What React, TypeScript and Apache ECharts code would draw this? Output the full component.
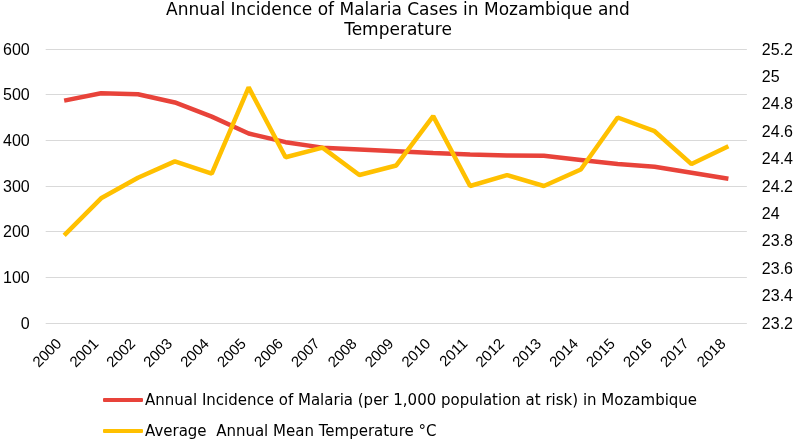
import React, { useEffect, useRef } from "react";
import * as echarts from "echarts";

const years = ["2000","2001","2002","2003","2004","2005","2006","2007","2008","2009","2010","2011","2012","2013","2014","2015","2016","2017","2018"];
const malaria = [487, 503, 501, 483, 452, 415, 396, 384, 380, 376, 372, 369, 367, 366, 357, 348, 342, 329, 316];
const temperature = [23.84, 24.11, 24.26, 24.38, 24.29, 24.92, 24.41, 24.48, 24.28, 24.35, 24.71, 24.2, 24.28, 24.2, 24.32, 24.7, 24.6, 24.36, 24.49];
const malariaName = "Annual Incidence of Malaria (per 1,000 population at risk) in Mozambique";
const tempName = "Average  Annual Mean Temperature \u00b0C";
const titleText = "Annual Incidence of Malaria Cases in Mozambique and\nTemperature";

const FONT = "Liberation Sans, Arial, sans-serif";
const WIDE = "DejaVu Sans, sans-serif";

export default function App() {
  const ref = useRef<HTMLDivElement>(null);
  useEffect(() => {
    if (!ref.current) return;
    const chart = echarts.init(ref.current, undefined, { renderer: "svg" });
    chart.setOption({
      animation: false,
      textStyle: { fontFamily: FONT },
      title: {
        text: titleText,
        left: "center",
        top: -6,
        textStyle: { fontFamily: WIDE, fontSize: 17, fontWeight: "normal", color: "#000", lineHeight: 20 },
      },
      grid: { left: 43, right: 48, top: 49, bottom: 118 },
      legend: {
        orient: "vertical",
        left: 103,
        top: 391,
        height: 80,
        padding: 0,
        itemWidth: 40,
        itemHeight: 4,
        itemGap: 13,
        icon: "roundRect",
        textStyle: { fontFamily: WIDE, fontSize: 15, lineHeight: 18, color: "#000", padding: [0, 0, 0, -3] },
        data: [malariaName, tempName],
      },
      xAxis: {
        type: "category",
        data: years,
        boundaryGap: true,
        axisLine: { show: false },
        axisTick: { show: false },
        axisLabel: { rotate: 45, fontSize: 15, color: "#000", margin: 12, padding: [0, 8, 0, 0], fontFamily: FONT },
      },
      yAxis: [
        {
          type: "value",
          min: 0,
          max: 600,
          interval: 100,
          axisLine: { show: false },
          axisTick: { show: false },
          axisLabel: { fontSize: 16, color: "#000", margin: 16, fontFamily: FONT },
          splitLine: { lineStyle: { color: "#d9d9d9", width: 1 } },
        },
        {
          type: "value",
          min: 23.2,
          max: 25.2,
          interval: 0.2,
          axisLine: { show: false },
          axisTick: { show: false },
          axisLabel: {
            fontSize: 16,
            color: "#000",
            margin: 15,
            fontFamily: FONT,
            formatter: (v: number) => String(Math.round(v * 10) / 10),
          },
          splitLine: { show: false },
        },
      ],
      series: [
        {
          name: malariaName,
          type: "line",
          data: malaria,
          yAxisIndex: 0,
          showSymbol: false,
          symbol: "none",
          lineStyle: { color: "#E8433A", width: 4.5 },
          itemStyle: { color: "#E8433A" },
        },
        {
          name: tempName,
          type: "line",
          data: temperature,
          yAxisIndex: 1,
          showSymbol: false,
          symbol: "none",
          lineStyle: { color: "#FFC000", width: 4.5 },
          itemStyle: { color: "#FFC000" },
        },
      ],
    });
    return () => chart.dispose();
  }, []);
  return <div ref={ref} style={{ position: "fixed", left: 0, top: 0, width: 796, height: 441 }} />;
}
